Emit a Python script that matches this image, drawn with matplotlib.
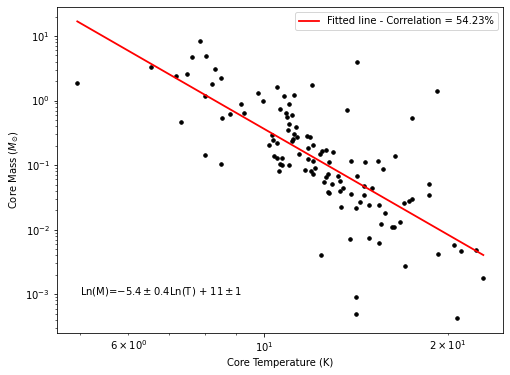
import numpy as np
import matplotlib
matplotlib.use("Agg")
import matplotlib.pyplot as plt

# ── Data ───────────────────────────────────────────────────────────────────────
core_temp = [
    4.95, 6.53, 7.19, 7.49, 7.63, 7.87, 8.05, 8.32, 8.51, 8.23,
    8.02, 7.32, 8.55, 8.81, 9.18, 9.28, 8.02, 8.51, 9.79, 9.97,
    10.51, 10.79, 10.63, 10.88, 10.92, 10.99, 10.99, 10.96, 10.32, 10.36,
    10.51, 10.20, 10.40, 10.51, 10.71, 10.63, 10.71, 10.58, 10.99, 11.21,
    12.00, 14.21, 13.69, 11.13, 11.29, 11.21, 11.17, 11.13, 11.34, 11.77,
    11.91, 12.04, 11.82, 11.42, 11.82, 12.04, 12.36, 12.46, 12.65, 12.98,
    12.79, 11.68, 11.95, 12.13, 12.04, 12.74, 12.65, 12.55, 12.93, 13.23,
    13.33, 13.48, 13.89, 14.21, 14.64, 15.38, 14.59, 19.16, 17.48, 16.39,
    15.67, 18.63, 15.03, 13.89, 14.59, 14.37, 14.16, 14.87, 15.44, 15.79,
    15.55, 16.71, 16.21, 16.33, 16.96, 17.28, 17.48, 18.63, 13.84, 14.87,
    15.44, 13.38, 13.33, 12.74, 12.79, 12.41, 19.28, 17.03, 20.48, 21.02,
    22.25, 22.84, 14.16, 14.16, 20.71,
]
core_mass = [
    1.861, 3.295, 2.389, 2.567, 4.71, 8.34, 4.88, 3.07, 2.225, 1.796,
    1.170, 0.4625, 0.5334, 0.6154, 0.8795, 0.6376, 0.1424, 0.1033, 1.302, 0.979,
    1.614, 1.170, 0.7357, 0.6376, 0.5529, 0.8795, 0.4306, 0.3476, 0.2908, 0.2432,
    0.2185, 0.2035, 0.1374, 0.1279, 0.1270, 0.1033, 0.0996, 0.0804, 0.0996, 1.226,
    1.733, 3.94, 0.7098, 0.5938, 0.3870, 0.3013, 0.2521, 0.2347, 0.2708, 0.2806,
    0.2708, 0.2035, 0.1828, 0.1476, 0.1235, 0.1149, 0.1476, 0.1642, 0.1702, 0.1585,
    0.1109, 0.0842, 0.0804, 0.0895, 0.0723, 0.0723, 0.0649, 0.0543, 0.0506, 0.0673,
    0.0563, 0.0438, 0.1149, 0.0673, 0.1109, 0.1149, 0.0471, 1.399, 0.5334, 0.1374,
    0.0864, 0.0506, 0.0438, 0.0354, 0.0341, 0.0266, 0.0215, 0.0239, 0.0239, 0.0180,
    0.0121, 0.0130, 0.0109, 0.0109, 0.0257, 0.0276, 0.0296, 0.0341, 0.00710, 0.00736,
    0.00615, 0.0223, 0.0394, 0.0380, 0.0367, 0.00401, 0.00416, 0.00271, 0.00573, 0.00462,
    0.00479, 0.00176, 0.000895, 0.000488, 0.000423,
]

# ln(M) = slope * ln(T) + intercept
fit_slope = -5.45
fit_intercept = 11.54
correlation = 54.23

# ── Plot ───────────────────────────────────────────────────────────────────────
fig = plt.figure(figsize=(510 / 72, 375 / 72), dpi=72)
ax = fig.add_axes([0.1118, 0.1112, 0.8745, 0.8701])

ax.plot(core_temp, core_mass, "k.", markersize=7)

t_line = np.sort(np.array(core_temp))
m_line = np.exp(fit_intercept) * t_line ** fit_slope
ax.plot(t_line, m_line, color="red", lw=1.8,
        label=f"Fitted line - Correlation = {correlation:.2f}%")

ax.set_xscale("log")
ax.set_yscale("log")
ax.set_xlim(4.586, 24.6)
ax.set_ylim(2.48e-4, 28.1)

ax.text(5.0, 1e-3, r"Ln(M)=$-5.4\pm0.4$Ln(T) $+\ 11\pm1$")

ax.set_xlabel("Core Temperature (K)")
ax.set_ylabel(r"Core Mass ($M_{\odot}$)")
ax.legend(loc="upper right")

fig.savefig("out.png", dpi=72)
